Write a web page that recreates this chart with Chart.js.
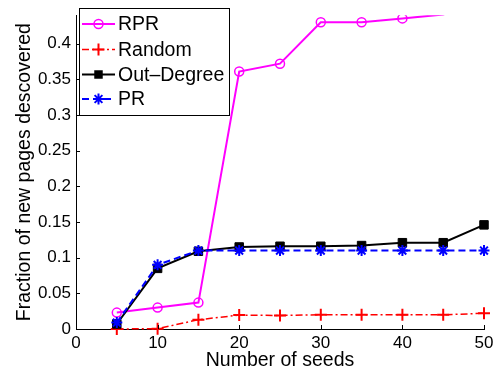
<!DOCTYPE html>
<html>
<head>
<meta charset="utf-8">
<script src="https://cdn.jsdelivr.net/npm/chart.js@4"></script>
<style>
  html, body { margin: 0; padding: 0; background: #fff; }
  #wrap { width: 503px; height: 372px; }
</style>
</head>
<body>
<div id="wrap"><canvas id="seedChart" width="503" height="372"></canvas></div>
<script>
// values
const seeds = [5, 10, 15, 20, 25, 30, 35, 40, 45, 50];
const rprValues = [0.023, 0.030, 0.037, 0.361, 0.372, 0.430, 0.430, 0.4355, 0.441, 0.46];
const randomValues = [0, 0.0005, 0.013, 0.0195, 0.019, 0.020, 0.020, 0.020, 0.020, 0.022];
const outDegreeValues = [0.007, 0.085, 0.109, 0.115, 0.116, 0.116, 0.117, 0.121, 0.121, 0.146];
const prValues = [0.009, 0.090, 0.110, 0.110, 0.110, 0.110, 0.110, 0.110, 0.110, 0.110];
const seriesNames = ['RPR', 'Random', 'Out\u2013Degree', 'PR'];
const xTicks = [0, 10, 20, 30, 40, 50];
const yTicks = [0, 0.05, 0.1, 0.15, 0.2, 0.25, 0.3, 0.35, 0.4];
const yMax = 0.44;

const FONT = 'Liberation Sans, Arial, sans-serif';
Chart.defaults.font.family = FONT;
Chart.defaults.color = '#000';

const toPoints = vals => seeds.map((s, i) => ({ x: s, y: vals[i] }));

// draw a marker the same way for the legend
function drawMarker(c, style, x, y, r) {
  c.beginPath();
  if (style === 'circle') {
    c.arc(x, y, r, 0, Math.PI * 2);
    c.stroke();
  } else if (style === 'cross') {
    c.moveTo(x - r, y); c.lineTo(x + r, y);
    c.moveTo(x, y - r); c.lineTo(x, y + r);
    c.stroke();
  } else if (style === 'rect') {
    const h = r * Math.SQRT1_2;
    c.rect(x - h, y - h, 2 * h, 2 * h);
    c.fill();
  } else if (style === 'star') {
    const d = r * Math.SQRT1_2;
    c.moveTo(x - r, y); c.lineTo(x + r, y);
    c.moveTo(x, y - r); c.lineTo(x, y + r);
    c.moveTo(x - d, y - d); c.lineTo(x + d, y + d);
    c.moveTo(x - d, y + d); c.lineTo(x + d, y - d);
    c.stroke();
  }
}

// matlab style: ticks inside the axes + boxed legend top-left
const matlabAxes = {
  id: 'matlabAxes',
  afterDraw(chart) {
    const c = chart.ctx;
    const xs = chart.scales.x, ys = chart.scales.y;
    const area = chart.chartArea;
    c.save();
    c.strokeStyle = '#000';
    c.lineWidth = 1;
    c.beginPath();
    yTicks.forEach(v => {
      const py = Math.round(ys.getPixelForValue(v)) + 0.5;
      c.moveTo(area.left, py); c.lineTo(area.left + 4, py);
    });
    xTicks.forEach(v => {
      const px = Math.round(xs.getPixelForValue(v)) + 0.5;
      c.moveTo(px, area.bottom); c.lineTo(px, area.bottom - 4);
    });
    c.stroke();

    // legend
    const bx = 79.5, by = 8.5, bw = 150, bh = 107;
    c.fillStyle = '#fff';
    c.fillRect(bx, by, bw, bh);
    c.strokeRect(bx, by, bw, bh);
    const rowY = [24, 49.5, 74.5, 99];
    c.font = '19.5px ' + FONT;
    c.textBaseline = 'middle';
    c.textAlign = 'left';
    chart.data.datasets.forEach((ds, i) => {
      const y = rowY[i];
      c.save();
      c.strokeStyle = ds.borderColor;
      c.lineWidth = ds.borderWidth;
      c.setLineDash(ds.borderDash || []);
      c.beginPath();
      c.moveTo(82, y); c.lineTo(115, y);
      c.stroke();
      c.setLineDash([]);
      c.lineWidth = ds.pointBorderWidth;
      c.fillStyle = ds.borderColor;
      drawMarker(c, ds.pointStyle, 98.5, y, ds.markerSize);
      c.restore();
      c.fillStyle = '#000';
      c.fillText(ds.label, 118, y + 1);
    });
    c.restore();
  }
};

// markers outside the axes are not drawn (the line still is, clipped)
const markerRadius = r => ctx => (ctx.raw && ctx.raw.y >= yMax ? 0 : r);

new Chart(document.getElementById('seedChart'), {
  type: 'line',
  data: {
    datasets: [
      {
        label: seriesNames[0],
        data: toPoints(rprValues),
        borderColor: '#ff00ff',
        borderWidth: 2,
        pointStyle: 'circle',
        markerSize: 4.5,
        pointRadius: markerRadius(4.5),
        pointBorderWidth: 1.5,
        pointBackgroundColor: 'rgba(255,255,255,0)',
        clip: 0,
        order: 4
      },
      {
        label: seriesNames[1],
        data: toPoints(randomValues),
        borderColor: '#ff0000',
        borderWidth: 1.5,
        borderDash: [7, 3, 2, 3],
        pointStyle: 'cross',
        markerSize: 6,
        pointRadius: 6,
        pointBorderWidth: 2,
        clip: false,
        order: 3
      },
      {
        label: seriesNames[2],
        data: toPoints(outDegreeValues),
        borderColor: '#000000',
        borderWidth: 2,
        pointStyle: 'rect',
        markerSize: 6,
        pointRadius: 6,
        pointBorderWidth: 1,
        pointBackgroundColor: '#000000',
        clip: false,
        order: 2
      },
      {
        label: seriesNames[3],
        data: toPoints(prValues),
        borderColor: '#0000ff',
        borderWidth: 2,
        borderDash: [7, 4],
        pointStyle: 'star',
        markerSize: 5.5,
        pointRadius: 5.5,
        pointBorderWidth: 2,
        clip: false,
        order: 1
      }
    ]
  },
  options: {
    responsive: false,
    animation: false,
    events: [],
    layout: { padding: { top: 7, right: 19, left: 0, bottom: 0 } },
    elements: { line: { tension: 0, fill: false } },
    plugins: {
      legend: { display: false },
      tooltip: { enabled: false }
    },
    scales: {
      x: {
        type: 'linear',
        min: 0,
        max: 50,
        afterBuildTicks: s => { s.ticks = xTicks.map(v => ({ value: v })); },
        ticks: { padding: 4, color: '#000', font: { size: 17 }, maxRotation: 0, autoSkip: false },
        grid: { display: false, drawTicks: false },
        border: { display: true, color: '#000', width: 1 },
        title: { display: true, text: 'Number of seeds', color: '#000', font: { size: 19.5 }, padding: 0 },
        afterFit: s => { s.height = 43; }
      },
      y: {
        type: 'linear',
        min: 0,
        max: yMax,
        afterBuildTicks: s => { s.ticks = yTicks.map(v => ({ value: v })); },
        ticks: { padding: 5, color: '#000', font: { size: 17 }, callback: v => String(+v.toFixed(2)) },
        grid: { display: false, drawTicks: false },
        border: { display: true, color: '#000', width: 1 },
        title: { display: true, text: 'Fraction of new pages descovered', color: '#000', font: { size: 19.5 }, padding: { top: 13, bottom: 0 } },
        afterFit: s => { s.width = 76; }
      }
    }
  },
  plugins: [matlabAxes]
});
</script>
</body>
</html>
